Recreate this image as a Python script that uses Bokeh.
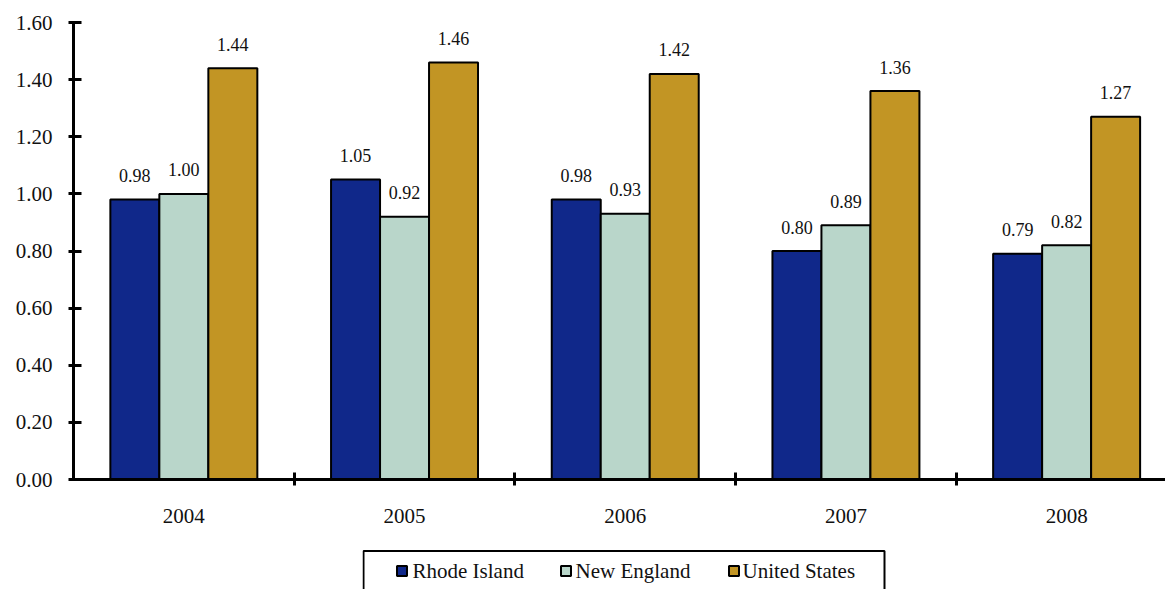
from bokeh.plotting import figure
from bokeh.models import (ColumnDataSource, FixedTicker, PrintfTickFormatter,
                          BoxAnnotation, Range1d, Spacer)
from bokeh.layouts import column, row
from bokeh.core.properties import value
from bokeh.embed import file_html
from bokeh.resources import INLINE

years = ["2004", "2005", "2006", "2007", "2008"]
rhode_island = [0.98, 1.05, 0.98, 0.80, 0.79]
new_england = [1.00, 0.92, 0.93, 0.89, 0.82]
united_states = [1.44, 1.46, 1.42, 1.36, 1.27]
series_names = ["Rhode Island", "New England", "United States"]
y_ticks = [0.0, 0.2, 0.4, 0.6, 0.8, 1.0, 1.2, 1.4, 1.6]

colors = ["#10288A", "#B9D6CA", "#C29524"]
FONT = "Liberation Serif"
TXT = "#111111"

# ---------------- main chart ----------------
p = figure(width=1165, height=549, output_backend="svg", toolbar_location=None,
           x_range=Range1d(0, 4.948), y_range=Range1d(0, 1.6),
           min_border_left=73, min_border_right=0, min_border_top=22, min_border_bottom=70)
p.xgrid.visible = False
p.ygrid.visible = False
p.outline_line_color = None

idx = list(range(len(years)))
bar_w = 0.222
offsets = [-bar_w, 0.0, bar_w]
for k, (name, vals, col) in enumerate(zip(series_names, [rhode_island, new_england, united_states], colors)):
    xs = [i + 0.5 + offsets[k] for i in idx]
    src = ColumnDataSource(dict(x=xs, top=vals, label=[f"{v:.2f}" for v in vals]))
    p.vbar(x="x", top="top", bottom=0, width=bar_w, source=src,
           fill_color=col, line_color="black", line_width=2)
    p.text(x="x", y="top", text="label", source=src, text_align="center",
           text_baseline="alphabetic", y_offset=-24, text_font=value(FONT),
           text_font_size="18px", text_color=TXT)

xa = p.xaxis[0]
xa.ticker = FixedTicker(ticks=[i + 0.5 for i in idx], minor_ticks=[i for i in range(1, len(years))])
xa.major_label_overrides = {i + 0.5: y for i, y in zip(idx, years)}
xa.major_tick_in = 0
xa.major_tick_out = 0
xa.minor_tick_in = 7
xa.minor_tick_out = 6
xa.minor_tick_line_width = 3
xa.minor_tick_line_color = "black"
xa.axis_line_width = 3
xa.axis_line_color = "black"
xa.major_label_standoff = 23
xa.major_label_text_font = FONT
xa.major_label_text_font_size = "21px"
xa.major_label_text_color = TXT

ya = p.yaxis[0]
ya.ticker = FixedTicker(ticks=y_ticks)
ya.formatter = PrintfTickFormatter(format="%.2f")
ya.major_tick_in = 8
ya.major_tick_out = 5
ya.major_tick_line_width = 3
ya.major_tick_line_color = "black"
ya.minor_tick_line_color = None
ya.axis_line_width = 3
ya.axis_line_color = "black"
ya.major_label_standoff = 16
ya.major_label_text_font = FONT
ya.major_label_text_font_size = "21px"
ya.major_label_text_color = TXT

# ---------------- legend strip ----------------
LW, LH = 524, 40
lg = figure(width=LW, height=LH, output_backend="svg", toolbar_location=None,
            x_range=Range1d(0, LW), y_range=Range1d(LH, 0),
            x_axis_location=None, y_axis_location=None,
            min_border_left=0, min_border_right=0, min_border_top=0, min_border_bottom=0)
lg.xgrid.visible = False
lg.ygrid.visible = False
lg.outline_line_color = None

marker_x = [39.5, 203.5, 371.5]
label_x = [50, 213, 380]
lsrc = ColumnDataSource(dict(mx=marker_x, my=[21.5] * 3, tx=label_x, ty=[21] * 3,
                             name=series_names, color=colors))
lg.scatter(x="mx", y="my", source=lsrc, marker="square", size=10,
           fill_color="color", line_color="black", line_width=2)
lg.text(x="tx", y="ty", text="name", source=lsrc, text_align="left",
        text_baseline="alphabetic", text_font=value(FONT), text_font_size="21px",
        text_color=TXT)
lg.add_layout(BoxAnnotation(left=1, right=LW - 2, top=1.5, bottom=LH + 20,
                            fill_color=None, fill_alpha=0, line_color="black",
                            line_alpha=1.0, line_width=2))

layout = column(p, row(Spacer(width=362, height=LH), lg))

open("out.html", "w").write(file_html(layout, INLINE))
